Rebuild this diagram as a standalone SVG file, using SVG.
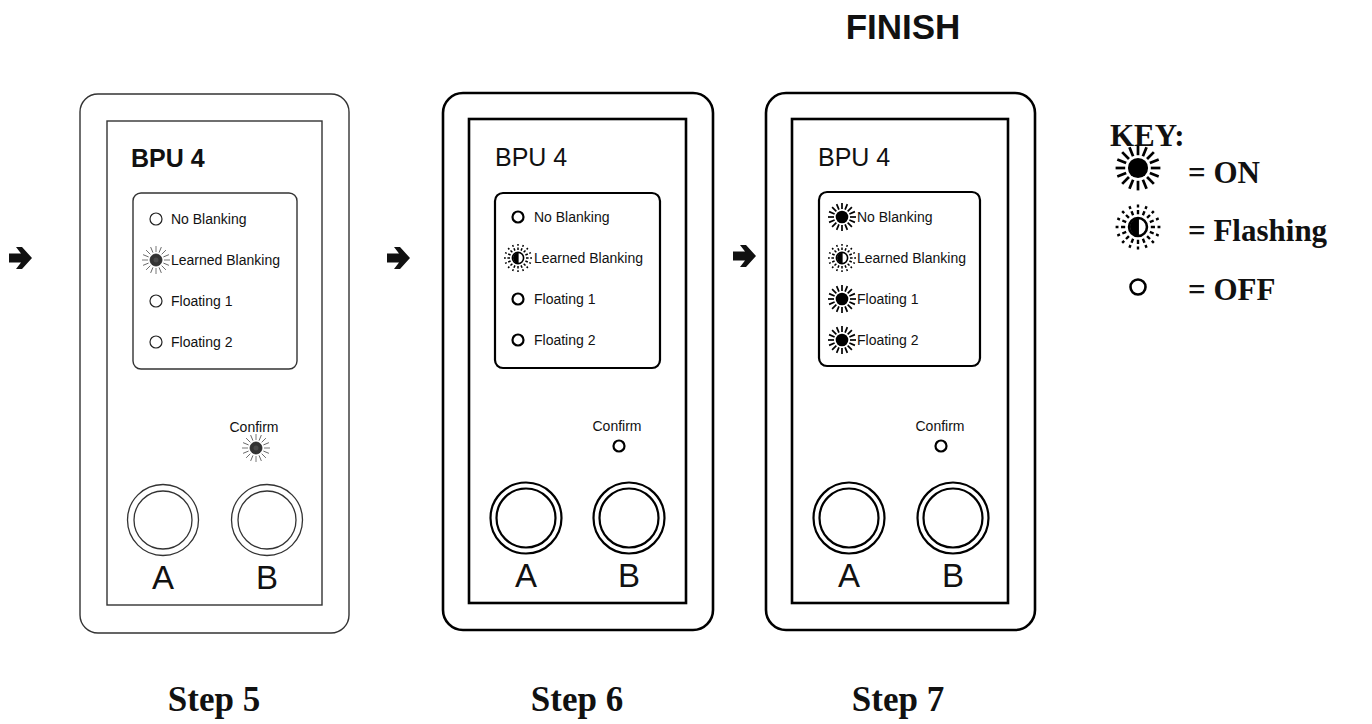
<svg xmlns="http://www.w3.org/2000/svg" xmlns:xlink="http://www.w3.org/1999/xlink" width="1372" height="724" viewBox="0 0 1372 724">
<style>
.sans{font-family:"Liberation Sans",Arial,sans-serif;fill:#111}
.serif{font-family:"Liberation Serif","Times New Roman",serif;font-weight:bold;fill:#111}
.p1{fill:none;stroke:#333;stroke-width:1.4}
.p2{fill:none;stroke:#000;stroke-width:2.6}
.box2{fill:none;stroke:#000;stroke-width:2.2}
.off1{fill:#fff;stroke:#222;stroke-width:1.2}
.off2{fill:#fff;stroke:#000;stroke-width:2.2}
.btn1{fill:#fff;stroke:#333;stroke-width:1.3}
.btn2{fill:#fff;stroke:#000;stroke-width:2.2}
.lbl{font-size:14px}
.bpu{font-size:25px}
.ab{font-size:33px;text-anchor:middle}
.cf{font-size:14px;text-anchor:middle}
.step{font-size:35px;text-anchor:middle}
.key{font-size:31px}
.ray{stroke:#000;stroke-width:1.7}
.dray{stroke:#000;stroke-width:1.5;stroke-dasharray:2.6 1.6}
.gray{stroke:#555;stroke-width:0.8}
.arrow{fill:#111}
</style>
<defs>
<line id="r" x1="8" y1="0" x2="14" y2="0"/>
<g id="rays">
<use href="#r"/><use href="#r" transform="rotate(22.5)"/><use href="#r" transform="rotate(45)"/><use href="#r" transform="rotate(67.5)"/>
<use href="#r" transform="rotate(90)"/><use href="#r" transform="rotate(112.5)"/><use href="#r" transform="rotate(135)"/><use href="#r" transform="rotate(157.5)"/>
<use href="#r" transform="rotate(180)"/><use href="#r" transform="rotate(202.5)"/><use href="#r" transform="rotate(225)"/><use href="#r" transform="rotate(247.5)"/>
<use href="#r" transform="rotate(270)"/><use href="#r" transform="rotate(292.5)"/><use href="#r" transform="rotate(315)"/><use href="#r" transform="rotate(337.5)"/>
</g>
<g id="on"><g class="ray"><use href="#rays"/></g><circle r="6.3" fill="#000"/></g>
<g id="flash"><g class="dray"><use href="#rays"/></g><circle r="5.6" fill="#fff" stroke="#000" stroke-width="1.6"/><path d="M0.6,-5.6 A5.6,5.6 0 0 0 0.6,5.6 Z" fill="#000"/></g>
<g id="grayled"><g class="gray"><use href="#rays"/></g><circle r="6" fill="#333" stroke="#222" stroke-width="0.8"/><circle r="2.5" fill="#4a4a4a"/></g>
<polygon id="arr" points="0,-4.5 12,-4.5 7,-11 13,-11 23,0 13,11 7,11 12,4.5 0,4.5"/>
</defs>

<rect width="1372" height="724" fill="#fff"/>

<text class="sans" x="903" y="39" font-size="35" font-weight="bold" text-anchor="middle">FINISH</text>

<g id="connectors" class="arrow">
<use href="#arr" x="9" y="258"/>
<use href="#arr" x="387" y="258"/>
<use href="#arr" x="733" y="256"/>
</g>

<g id="panel-step5">
<rect class="p1" x="80" y="94" width="269" height="539" rx="18"/>
<rect class="p1" x="107" y="121" width="215" height="484"/>
<text class="sans bpu" x="131" y="167" font-weight="bold" font-size="24">BPU 4</text>
<rect class="p1" x="133" y="193" width="164" height="176" rx="8" stroke-width="1.2"/>
<circle class="off1" cx="156" cy="219" r="6"/>
<text class="sans lbl" x="171" y="224">No Blanking</text>
<use href="#grayled" x="156" y="260"/>
<text class="sans lbl" x="171" y="265">Learned Blanking</text>
<circle class="off1" cx="156" cy="301" r="6"/>
<text class="sans lbl" x="171" y="306">Floating 1</text>
<circle class="off1" cx="156" cy="342" r="6"/>
<text class="sans lbl" x="171" y="347">Floating 2</text>
<text class="sans cf" x="254" y="432">Confirm</text>
<use href="#grayled" x="256" y="448"/>
<circle class="btn1" cx="163" cy="520" r="35.5"/>
<circle class="btn1" cx="163" cy="520" r="29"/>
<circle class="btn1" cx="267" cy="520" r="35.5"/>
<circle class="btn1" cx="267" cy="520" r="29"/>
<text class="sans ab" x="163" y="589">A</text>
<text class="sans ab" x="267" y="589">B</text>
</g>

<g id="panel-step6">
<rect class="p2" x="443" y="93" width="270" height="537" rx="20"/>
<rect class="p2" x="469" y="119" width="217" height="484"/>
<text class="sans bpu" x="495" y="166">BPU 4</text>
<rect class="box2" x="495" y="193" width="165" height="175" rx="8"/>
<circle class="off2" cx="518" cy="217" r="5.5"/>
<text class="sans lbl" x="534" y="222">No Blanking</text>
<use href="#flash" x="518" y="258"/>
<text class="sans lbl" x="534" y="263">Learned Blanking</text>
<circle class="off2" cx="518" cy="299" r="5.5"/>
<text class="sans lbl" x="534" y="304">Floating 1</text>
<circle class="off2" cx="518" cy="340" r="5.5"/>
<text class="sans lbl" x="534" y="345">Floating 2</text>
<text class="sans cf" x="617" y="431">Confirm</text>
<circle class="off2" cx="619" cy="446" r="5.5"/>
<circle class="btn2" cx="526" cy="518" r="35.5"/>
<circle class="btn2" cx="526" cy="518" r="29.5"/>
<circle class="btn2" cx="629" cy="518" r="35.5"/>
<circle class="btn2" cx="629" cy="518" r="29.5"/>
<text class="sans ab" x="526" y="587">A</text>
<text class="sans ab" x="629" y="587">B</text>
</g>

<g id="panel-step7">
<rect class="p2" x="766" y="93" width="269" height="537" rx="20"/>
<rect class="p2" x="792" y="119" width="216" height="484"/>
<text class="sans bpu" x="818" y="166">BPU 4</text>
<rect class="box2" x="819" y="192" width="161" height="174" rx="8"/>
<use href="#on" x="842" y="217"/>
<text class="sans lbl" x="857" y="222">No Blanking</text>
<use href="#flash" x="842" y="258"/>
<text class="sans lbl" x="857" y="263">Learned Blanking</text>
<use href="#on" x="842" y="299"/>
<text class="sans lbl" x="857" y="304">Floating 1</text>
<use href="#on" x="842" y="340"/>
<text class="sans lbl" x="857" y="345">Floating 2</text>
<text class="sans cf" x="940" y="431">Confirm</text>
<circle class="off2" cx="941" cy="446" r="5.5"/>
<circle class="btn2" cx="849" cy="518" r="35.5"/>
<circle class="btn2" cx="849" cy="518" r="29.5"/>
<circle class="btn2" cx="953" cy="518" r="35.5"/>
<circle class="btn2" cx="953" cy="518" r="29.5"/>
<text class="sans ab" x="849" y="587">A</text>
<text class="sans ab" x="953" y="587">B</text>
</g>

<g id="key">
<text class="serif key" x="1110" y="146">KEY:</text>
<use href="#on" transform="translate(1138,168) scale(1.6)"/>
<text class="serif key" x="1188" y="183">= ON</text>
<use href="#flash" transform="translate(1138,227) scale(1.6)"/>
<text class="serif key" x="1188" y="241">= Flashing</text>
<circle cx="1138" cy="287" r="7.5" fill="#fff" stroke="#000" stroke-width="2.6"/>
<text class="serif key" x="1188" y="300">= OFF</text>
</g>

<g id="steps">
<text class="serif step" x="214" y="711">Step 5</text>
<text class="serif step" x="577" y="711">Step 6</text>
<text class="serif step" x="898" y="711">Step 7</text>
</g>
</svg>
